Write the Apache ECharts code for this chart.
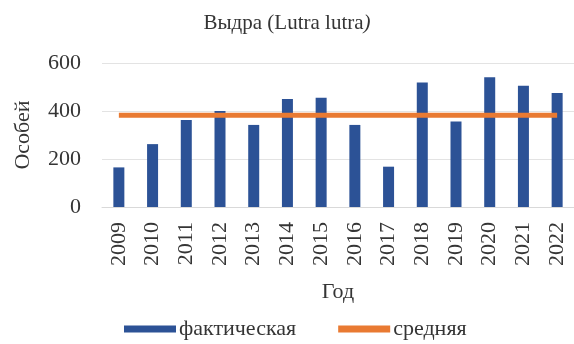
<!DOCTYPE html>
<html>
<head>
<meta charset="utf-8">
<script src="https://cdn.jsdelivr.net/npm/echarts@6/dist/echarts.min.js"></script>
<style>
  html, body { margin: 0; padding: 0; background: #fff; }
  #chart { width: 574px; height: 344px; }
</style>
</head>
<body>
<div id="chart"></div>
<script>
// Otter counts per year (individuals) and the long-term average
const years = ['2009', '2010', '2011', '2012', '2013', '2014', '2015',
               '2016', '2017', '2018', '2019', '2020', '2021', '2022'];
const actual = [165, 262, 363, 400, 342, 450, 455, 342, 168, 519, 356, 541, 505, 475];
const average = [382, 382, 382, 382, 382, 382, 382, 382, 382, 382, 382, 382, 382, 382];
const yTicks = [0, 200, 400, 600];

const serif = '"Liberation Serif", "Times New Roman", serif';
const ink = '#353535';

const chart = echarts.init(document.getElementById('chart'), null, { renderer: 'canvas' });

chart.setOption({
  animation: false,
  backgroundColor: '#ffffff',
  title: {
    text: '{n|Выдра (Lutra lutra}{i|)}',
    left: 'center',
    top: 8,
    textStyle: {
      fontWeight: 'normal',
      rich: {
        n: { fontFamily: serif, fontSize: 21, fontWeight: 'normal', color: ink },
        i: { fontFamily: serif, fontSize: 21, fontWeight: 'normal', color: ink, fontStyle: 'italic' }
      }
    }
  },
  legend: {
    top: 318,
    left: 124,
    padding: 0,
    itemWidth: 52,
    itemHeight: 7,
    itemGap: 42,
    textStyle: { fontFamily: serif, fontSize: 22, color: ink, padding: [0, 0, 0, -2] },
    data: [
      { name: 'фактическая', icon: 'rect' },
      { name: 'средняя', icon: 'rect' }
    ]
  },
  grid: {
    left: 102,
    top: 63,
    width: 476,
    height: 144
  },
  xAxis: {
    type: 'category',
    data: years,
    boundaryGap: true,
    axisLine: { show: true, lineStyle: { color: '#d9d9d9', width: 1 } },
    axisTick: { show: false },
    axisLabel: {
      rotate: 90,
      margin: 15,
      fontFamily: serif,
      fontSize: 22,
      color: ink
    },
    name: 'Год',
    nameLocation: 'middle',
    nameGap: 74,
    nameTextStyle: { fontFamily: serif, fontSize: 22, color: ink }
  },
  yAxis: {
    type: 'value',
    min: yTicks[0],
    max: yTicks[yTicks.length - 1],
    interval: 200,
    axisLine: { show: false },
    axisTick: { show: false },
    splitLine: { lineStyle: { color: '#e3e3e3', width: 1 } },
    axisLabel: {
      margin: 21,
      fontFamily: serif,
      fontSize: 22,
      color: ink
    },
    name: 'Особей',
    nameLocation: 'middle',
    nameRotate: 90,
    nameGap: 68,
    nameTextStyle: { fontFamily: serif, fontSize: 22, color: ink }
  },
  series: [
    {
      name: 'фактическая',
      type: 'bar',
      data: actual,
      barWidth: 11,
      itemStyle: { color: '#2C5296' }
    },
    {
      name: 'средняя',
      type: 'line',
      data: average,
      symbol: 'none',
      lineStyle: { color: '#E97A32', width: 5 },
      itemStyle: { color: '#E97A32' },
      z: 3
    }
  ]
});
</script>
</body>
</html>
